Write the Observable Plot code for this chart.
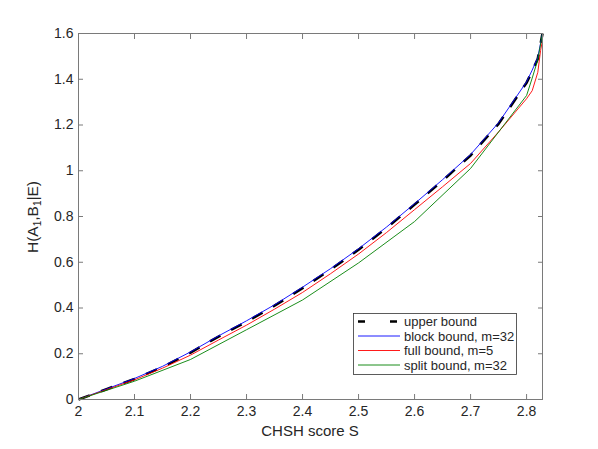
<!DOCTYPE html>
<html>
<head>
<meta charset="utf-8">
<script src="https://cdn.jsdelivr.net/npm/d3@7"></script>
<script src="https://cdn.jsdelivr.net/npm/@observablehq/plot@0.6"></script>
<style>
  html, body { margin: 0; padding: 0; background: #fff; }
  #chart { width: 598px; height: 449px; }
</style>
</head>
<body>
<div id="chart"></div>
<script>
// ---- data ----
const xTicks = [2, 2.1, 2.2, 2.3, 2.4, 2.5, 2.6, 2.7, 2.8];
const yTicks = [0, 0.2, 0.4, 0.6, 0.8, 1, 1.2, 1.4, 1.6];

const sFine = [2.0, 2.05, 2.1, 2.15, 2.2, 2.25, 2.3, 2.35, 2.4, 2.45, 2.5, 2.55, 2.6, 2.65, 2.7, 2.75, 2.8, 2.81, 2.82, 2.825, 2.8284];
const upperBound = [0, 0.045, 0.09, 0.142, 0.205, 0.275, 0.34, 0.41, 0.487, 0.568, 0.655, 0.75, 0.852, 0.957, 1.067, 1.205, 1.385, 1.435, 1.49, 1.555, 1.6];
const blockBound = [0, 0.046, 0.092, 0.145, 0.208, 0.278, 0.344, 0.414, 0.491, 0.572, 0.659, 0.754, 0.856, 0.961, 1.071, 1.21, 1.389, 1.44, 1.495, 1.558, 1.6];

const sFull = [2.0, 2.05, 2.1, 2.15, 2.2, 2.25, 2.3, 2.35, 2.4, 2.45, 2.5, 2.55, 2.6, 2.65, 2.7, 2.75, 2.8, 2.81, 2.82, 2.825, 2.8284];
const fullBound = [0, 0.043, 0.086, 0.137, 0.194, 0.26, 0.325, 0.395, 0.468, 0.55, 0.636, 0.73, 0.83, 0.93, 1.032, 1.17, 1.315, 1.35, 1.43, 1.526, 1.57];

const sSplit = [2.0, 2.1, 2.2, 2.3, 2.4, 2.5, 2.6, 2.7, 2.8, 2.81, 2.82, 2.8284];
const splitBound = [0, 0.08, 0.175, 0.305, 0.435, 0.597, 0.778, 1.01, 1.329, 1.405, 1.485, 1.6];

const xDomain = [2, 2.8284];
const yDomain = [0, 1.6];

const seriesNames = ["upper bound", "block bound, m=32", "full bound, m=5", "split bound, m=32"];
const seriesColors = ["#000000", "#0000ff", "#ff0000", "#008000"];

const toRows = (xs, ys) => xs.map((s, i) => ({s, h: ys[i]}));
const fmt = d3.format("~g");

const axisColor = "#7a7a7a";
const textColor = "#262626";

const chart = Plot.plot({
  width: 598,
  height: 449,
  marginLeft: 78,
  marginRight: 56,
  marginTop: 33,
  marginBottom: 50,
  style: {fontFamily: "'Liberation Sans', Arial, Helvetica, sans-serif", fontSize: "14px", color: textColor, background: "#fff", overflow: "visible"},
  x: {domain: xDomain},
  y: {domain: yDomain},
  marks: [
    Plot.line(toRows(sFine, upperBound), {x: "s", y: "h", stroke: seriesColors[0], strokeWidth: 2.6, strokeDasharray: "12,12", strokeLinecap: "butt"}),
    Plot.line(toRows(sFine, blockBound), {x: "s", y: "h", stroke: seriesColors[1], strokeWidth: 0.9}),
    Plot.line(toRows(sFull, fullBound), {x: "s", y: "h", stroke: seriesColors[2], strokeWidth: 0.9}),
    Plot.line(toRows(sSplit, splitBound), {x: "s", y: "h", stroke: seriesColors[3], strokeWidth: 0.9}),
    Plot.frame({stroke: axisColor, strokeWidth: 1}),
    Plot.axisX(xTicks, {anchor: "bottom", tickSize: -5, tickPadding: 12, tickFormat: fmt, label: null, stroke: axisColor, fill: textColor}),
    Plot.axisX(xTicks, {anchor: "top", tickSize: -5, tickFormat: () => "", label: null, stroke: axisColor}),
    Plot.axisY(yTicks, {anchor: "left", tickSize: -5, tickPadding: 10, tickFormat: fmt, label: null, stroke: axisColor, fill: textColor}),
    Plot.axisY(yTicks, {anchor: "right", tickSize: -5, tickFormat: () => "", label: null, stroke: axisColor})
  ]
});

document.getElementById("chart").appendChild(chart);

const svg = d3.select(chart);

// x label
svg.append("text")
  .attr("x", 310).attr("y", 436)
  .attr("text-anchor", "middle")
  .attr("fill", textColor)
  .style("font-size", "15px")
  .text("CHSH score S");

// y label with subscripts
const yl = svg.append("text")
  .attr("transform", "translate(38,217) rotate(-90)")
  .attr("text-anchor", "middle")
  .attr("fill", textColor)
  .style("font-size", "15.5px");
yl.append("tspan").text("H(A");
yl.append("tspan").attr("dy", 3).style("font-size", "10px").text("1");
yl.append("tspan").attr("dy", -3).text(",B");
yl.append("tspan").attr("dy", 3).style("font-size", "10px").text("1");
yl.append("tspan").attr("dy", -3).text("|E)");

// legend
const lg = svg.append("g").attr("text-anchor", "start");
lg.append("rect")
  .attr("x", 353.5).attr("y", 313.5).attr("width", 163).attr("height", 61)
  .attr("fill", "#fff").attr("stroke", "#333").attr("stroke-width", 0.8);
seriesNames.forEach((name, i) => {
  const y = 321.5 + i * 14.5;
  lg.append("line")
    .attr("x1", 358).attr("x2", 400).attr("y1", y).attr("y2", y)
    .attr("stroke", seriesColors[i])
    .attr("stroke-width", i === 0 ? 2.6 : 0.9)
    .attr("stroke-dasharray", i === 0 ? "7,25" : null);
  lg.append("text")
    .attr("x", 404).attr("y", y + 4.6)
    .attr("text-anchor", "start")
    .attr("fill", textColor)
    .style("font-size", "13px")
    .text(name);
});
</script>
</body>
</html>
